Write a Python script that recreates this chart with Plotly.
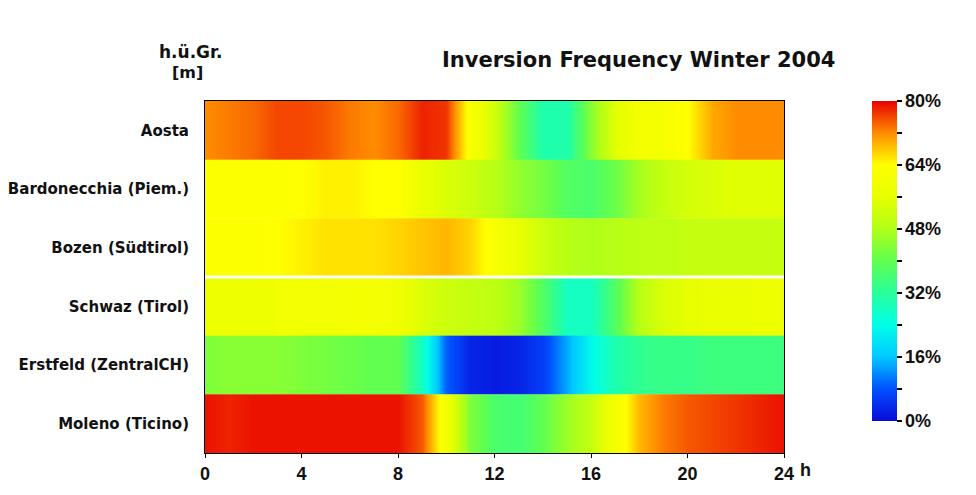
import plotly.graph_objects as go

hours = list(range(0, 25))
stations = ["Aosta", "Bardonecchia (Piem.)", "Bozen (Südtirol)",
            "Schwaz (Tirol)", "Erstfeld (ZentralCH)", "Moleno (Ticino)"]

aosta = [72, 73, 74, 76, 76, 75, 73, 72, 74, 78, 77, 62, 52, 40, 30, 30, 44, 55, 60, 61, 64, 70, 72, 72, 72]
bardonecchia = [63, 63, 63, 63, 64, 65, 65, 64, 64, 57, 54, 52, 49, 45, 42, 38, 37, 41, 47, 51, 53, 54, 55, 55, 55]
bozen = [63, 63, 63, 64, 65, 66, 66, 66, 67, 68, 69, 67, 62, 56, 52, 49, 48, 49, 50, 50, 51, 51, 51, 51, 51]
schwaz = [58, 58, 58, 59, 59, 59, 60, 60, 59, 54, 52, 51, 50, 46, 38, 28, 28, 38, 49, 54, 56, 57, 57, 58, 58]
erstfeld = [43, 44, 44, 44, 43, 42, 41, 40, 40, 28, 9, 3, 2, 3, 6, 14, 23, 30, 33, 34, 34, 35, 35, 35, 35]
moleno = [79, 78, 79, 79, 79, 79, 79, 79, 79, 75, 60, 43, 37, 36, 40, 46, 51, 60, 69, 73, 75, 76, 77, 78, 79]

series = [aosta, bardonecchia, bozen, schwaz, erstfeld, moleno]

x_ticks = [0, 4, 8, 12, 16, 20, 24]
cbar_vals = [0, 8, 16, 24, 32, 40, 48, 56, 64, 72, 80]
cbar_text = ["0%", "", "16%", "", "32%", "", "48%", "", "64%", "", "80%"]

colorscale = [
    [0.0, "#0a0ad8"], [0.1, "#0050ff"], [0.2, "#00c8ff"], [0.3, "#00ffe8"],
    [0.4, "#28ff9a"], [0.5, "#60ff50"], [0.6, "#b0ff18"], [0.7, "#e8ff00"],
    [0.8, "#ffff00"], [0.9, "#ff8c00"], [1.0, "#e80000"],
]

num_font = "Liberation Sans, Arial, sans-serif"
wide = "DejaVu Sans, Verdana, sans-serif"

# page body has an 8px margin; compensate so the plot lands where the reference has it
L, R, T, B = 205 - 8, 192 + 8, 101 - 8, 42 + 8
PW, PH = 976 - L - R, 495 - T - B

n = len(stations)
fig = go.Figure()
for i, (name, vals) in enumerate(zip(stations, series)):
    yc = n - 1 - i
    fig.add_trace(go.Heatmap(
        x=hours, y=[yc - 0.25, yc + 0.25], z=[vals, vals],
        coloraxis="coloraxis", zsmooth="best", name=name,
        hovertemplate=name + "<br>%{x} h: %{z}%<extra></extra>",
    ))

fig.update_layout(
    width=976, height=495,
    margin=dict(l=L, r=R, t=T, b=B, autoexpand=False),
    paper_bgcolor="white", plot_bgcolor="white",
    coloraxis=dict(
        cmin=0, cmax=80, colorscale=colorscale,
        colorbar=dict(
            x=(872 - 205) / PW, xanchor="left", y=1, yanchor="top",
            xpad=0, ypad=0,
            len=320, lenmode="pixels", thickness=25, thicknessmode="pixels",
            outlinewidth=0, tickmode="array", tickvals=cbar_vals, ticktext=cbar_text,
            ticks="outside", ticklen=5, tickcolor="black", tickwidth=2,
            tickfont=dict(family=num_font, size=18, color="#111111", weight="bold"),
        ),
    ),
    xaxis=dict(
        range=[0, 24], tickmode="array", tickvals=x_ticks, automargin=False,
        ticks="outside", ticklen=4, tickcolor="black",
        showline=True, linecolor="black", linewidth=1, mirror=True,
        showgrid=False, zeroline=False,
        tickfont=dict(family=num_font, size=18, color="#111111", weight="bold"),
    ),
    yaxis=dict(
        range=[-0.5, n - 0.5], tickmode="array", automargin=False,
        tickvals=[n - 1 - i for i in range(n)], ticktext=stations,
        ticks="", ticklabelstandoff=12,
        showline=True, linecolor="black", linewidth=1, mirror=True,
        showgrid=False, zeroline=False,
        tickfont=dict(family=wide, size=15, color="#111111", weight="bold"),
    ),
    showlegend=False,
)

# separator line between Bozen and Schwaz
fig.add_shape(type="line", xref="paper", yref="y", x0=0, x1=1, y0=2.5, y1=2.5,
              line=dict(color="white", width=3))

fig.add_annotation(text="Inversion Frequency Winter 2004", xref="paper", yref="paper",
                   x=(638 - 205) / PW, y=1 + (101 - 60) / PH, xanchor="center", yanchor="middle",
                   showarrow=False, font=dict(family=wide, size=21, color="#111111", weight="bold"))
fig.add_annotation(text="h.ü.Gr.", xref="paper", yref="paper",
                   x=(157 - 205) / PW, y=1 + (101 - 52) / PH, xanchor="left", yanchor="middle",
                   showarrow=False, font=dict(family=wide, size=17, color="#111111", weight="bold"))
fig.add_annotation(text="[m]", xref="paper", yref="paper",
                   x=(170 - 205) / PW, y=1 + (101 - 72) / PH, xanchor="left", yanchor="middle",
                   showarrow=False, font=dict(family=wide, size=16, color="#111111", weight="bold"))
fig.add_annotation(text="h", xref="x", yref="paper", x=24, xshift=14,
                   y=-(470 - 453) / PH, xanchor="left", yanchor="middle",
                   showarrow=False, font=dict(family=num_font, size=18, color="#111111", weight="bold"))

fig.write_html("out.html")
